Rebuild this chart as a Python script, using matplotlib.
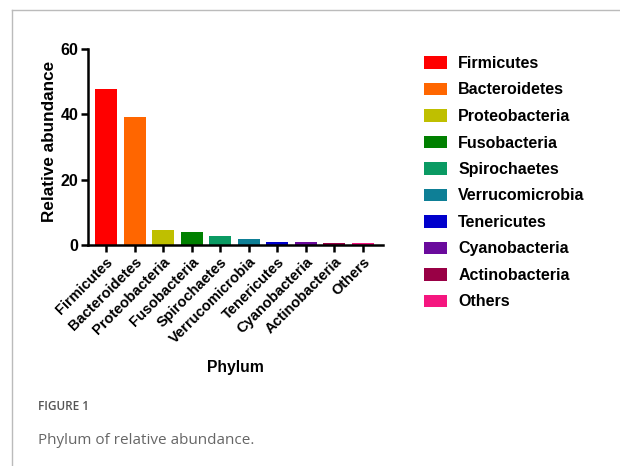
import matplotlib.pyplot as plt
from matplotlib.lines import Line2D

# ---- data ----
phyla = ["Firmicutes", "Bacteroidetes", "Proteobacteria", "Fusobacteria",
         "Spirochaetes", "Verrucomicrobia", "Tenericutes", "Cyanobacteria",
         "Actinobacteria", "Others"]
abundance = [47.9, 39.1, 4.6, 4.0, 2.8, 1.8, 0.8, 0.8, 0.5, 0.6]
colors = ["#ff0000", "#ff6600", "#bfbf00", "#008000", "#0a9a63",
          "#0e7f96", "#0000cc", "#6a0a9c", "#990045", "#f5167f"]
yticks = [0, 20, 40, 60]

plt.rcParams['font.family'] = ['Liberation Sans', 'DejaVu Sans']

fig = plt.figure(figsize=(6.2, 4.66), dpi=100)
ax = fig.add_axes([88/620, 1-245/466, (383-88)/620, (245-49)/466])

x = list(range(len(phyla)))
ax.bar(x, abundance, width=0.77, color=colors, label=phyla, zorder=2)

ax.set_xlim(-0.63, 9.7)
ax.set_ylim(0, 60)
ax.set_yticks(yticks)
ax.set_xticks(x)
ax.set_xticklabels(phyla, rotation=45, ha="right", rotation_mode="anchor",
                   fontsize=10.5, fontweight="bold")
for lbl in ax.get_yticklabels():
    lbl.set_fontsize(11.5)
    lbl.set_fontweight("bold")

for side in ("top", "right"):
    ax.spines[side].set_visible(False)
for side in ("left", "bottom"):
    ax.spines[side].set_linewidth(1.8)
ax.tick_params(axis="both", direction="out", length=5, width=1.8, pad=2)

ax.set_ylabel("Relative abundance", fontsize=12.3, fontweight="bold")
ax.yaxis.set_label_coords(-0.105, 0.53)
ax.set_xlabel("Phylum", fontsize=11.3, fontweight="bold", labelpad=10)

ax.legend(loc="upper left", bbox_to_anchor=(424/620, 1-56/466),
          bbox_transform=fig.transFigure, frameon=False, borderpad=0,
          borderaxespad=0, prop=dict(size=11.5, weight="bold"),
          handlelength=1.45, handleheight=0.8, handletextpad=0.7,
          labelspacing=0.72)

# page frame and caption
fig.add_artist(Line2D([12/620, 12/620], [0, 1-10/466], color="#bbbbbb", lw=1))
fig.add_artist(Line2D([12/620, 1], [1-10/466, 1-10/466], color="#bbbbbb", lw=1))
fig.text(38/620, 1-407/466, "FIGURE 1", fontsize=8.5, color="#555555",
         family="Open Sans", fontweight="semibold", va="center")
fig.text(38/620, 1-441/466, "Phylum of relative abundance.", fontsize=11,
         color="#666666", family="Open Sans", va="center")

fig.savefig("out.png", dpi=100)
